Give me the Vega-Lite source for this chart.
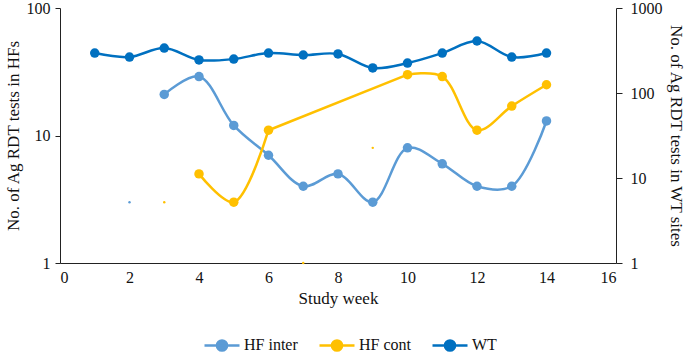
{
  "$schema": "https://vega.github.io/schema/vega-lite/v6.json",
  "autosize": {"type": "none"},
  "width": 556,
  "height": 255,
  "padding": {"left": 60, "top": 8, "right": 72, "bottom": 90},
  "background": "white",
  "config": {
    "font": "Liberation Serif",
    "view": {"stroke": null},
    "axis": {"grid": false, "domainColor": "#222", "tickColor": "#222", "labelColor": "#111", "titleColor": "#111", "labelFontSize": 16, "titleFontSize": 17, "titleFontWeight": "normal", "labelFont": "Liberation Serif", "titleFont": "Liberation Serif"},
    "legend": {"labelFont": "Liberation Serif"}
  },
  "datasets": {
    "hf": [
      {"week": 3, "series": "HF inter", "value": 21},
      {"week": 4, "series": "HF inter", "value": 29},
      {"week": 5, "series": "HF inter", "value": 12},
      {"week": 6, "series": "HF inter", "value": 7},
      {"week": 7, "series": "HF inter", "value": 4},
      {"week": 8, "series": "HF inter", "value": 5},
      {"week": 9, "series": "HF inter", "value": 3},
      {"week": 10, "series": "HF inter", "value": 8},
      {"week": 11, "series": "HF inter", "value": 6},
      {"week": 12, "series": "HF inter", "value": 4},
      {"week": 13, "series": "HF inter", "value": 4},
      {"week": 14, "series": "HF inter", "value": 13},
      {"week": 4, "series": "HF cont", "value": 5},
      {"week": 5, "series": "HF cont", "value": 3},
      {"week": 6, "series": "HF cont", "value": 11},
      {"week": 10, "series": "HF cont", "value": 30},
      {"week": 11, "series": "HF cont", "value": 29},
      {"week": 12, "series": "HF cont", "value": 11},
      {"week": 13, "series": "HF cont", "value": 17},
      {"week": 14, "series": "HF cont", "value": 25}
    ],
    "dots": [
      {"week": 2, "series": "HF inter", "value": 3},
      {"week": 3, "series": "HF cont", "value": 3},
      {"week": 7, "series": "HF cont", "value": 1},
      {"week": 9, "series": "HF cont", "value": 8}
    ],
    "wt": [
      {"week": 1, "series": "WT", "value": 295},
      {"week": 2, "series": "WT", "value": 265},
      {"week": 3, "series": "WT", "value": 338},
      {"week": 4, "series": "WT", "value": 245},
      {"week": 5, "series": "WT", "value": 251},
      {"week": 6, "series": "WT", "value": 295},
      {"week": 7, "series": "WT", "value": 280},
      {"week": 8, "series": "WT", "value": 288},
      {"week": 9, "series": "WT", "value": 197},
      {"week": 10, "series": "WT", "value": 225},
      {"week": 11, "series": "WT", "value": 295},
      {"week": 12, "series": "WT", "value": 409},
      {"week": 13, "series": "WT", "value": 265},
      {"week": 14, "series": "WT", "value": 295}
    ]
  },
  "encoding": {
    "x": {"field": "week", "type": "quantitative", "scale": {"domain": [0, 16], "nice": false}, "axis": {"values": [0, 2, 4, 6, 8, 10, 12, 14, 16], "ticks": false, "title": "Study week", "titlePadding": 5, "labelPadding": 6}},
    "color": {"field": "series", "type": "nominal", "scale": {"domain": ["HF inter", "HF cont", "WT"], "range": ["#5B9BD5", "#FFC000", "#0070C0"]},
      "legend": {"orient": "none", "legendX": 143, "legendY": 318, "direction": "horizontal", "title": null, "labelFontSize": 16, "labelColor": "#111", "symbolType": "M-1,0H1M0.29,0A0.29,0.29,0,1,1,-0.29,0A0.29,0.29,0,1,1,0.29,0Z", "symbolSize": 1225, "symbolStrokeWidth": 2.5, "columnPadding": 16, "labelOffset": 3,
        "encode": {"symbols": {"update": {"fill": {"scale": "color", "field": "value"}, "fillOpacity": {"value": 1}}}}}}
  },
  "layer": [
    {
      "encoding": {
        "y": {"field": "value", "type": "quantitative", "scale": {"type": "log", "domain": [1, 100], "nice": false}, "axis": {"values": [1, 10, 100], "format": "d", "title": "No. of Ag RDT tests in HFs", "orient": "left", "tickSize": 5, "labelPadding": 5, "titlePadding": 4}}
      },
      "layer": [
        {"data": {"name": "hf"}, "transform": [{"filter": "datum.series === 'HF inter'"}], "mark": {"type": "line", "interpolate": "catmull-rom", "strokeWidth": 2.5}},
        {"data": {"name": "hf"}, "transform": [{"filter": "datum.series === 'HF cont' && datum.week <= 6"}], "mark": {"type": "line", "interpolate": "catmull-rom", "strokeWidth": 2.5}},
        {"data": {"name": "hf"}, "transform": [{"filter": "datum.series === 'HF cont' && datum.week >= 6 && datum.week <= 10"}], "mark": {"type": "line", "interpolate": "linear", "strokeWidth": 2.5}},
        {"data": {"name": "hf"}, "transform": [{"filter": "datum.series === 'HF cont' && datum.week >= 10"}], "mark": {"type": "line", "interpolate": "catmull-rom", "strokeWidth": 2.5}},
        {"data": {"name": "hf"}, "mark": {"type": "point", "filled": true, "opacity": 1, "size": 90}},
        {"data": {"name": "dots"}, "mark": {"type": "point", "filled": true, "opacity": 1, "size": 6}}
      ]
    },
    {
      "data": {"name": "wt"},
      "encoding": {
        "y": {"field": "value", "type": "quantitative", "scale": {"type": "log", "domain": [1, 1000], "nice": false}, "axis": {"values": [1, 10, 100, 1000], "format": "d", "title": "No. of Ag RDT tests in WT sites", "orient": "right", "tickSize": 6, "labelPadding": 8, "titlePadding": 4}}
      },
      "layer": [
        {"mark": {"type": "line", "interpolate": "catmull-rom", "strokeWidth": 2.5}},
        {"mark": {"type": "point", "filled": true, "opacity": 1, "size": 90}}
      ]
    }
  ],
  "resolve": {"scale": {"y": "independent"}}
}
